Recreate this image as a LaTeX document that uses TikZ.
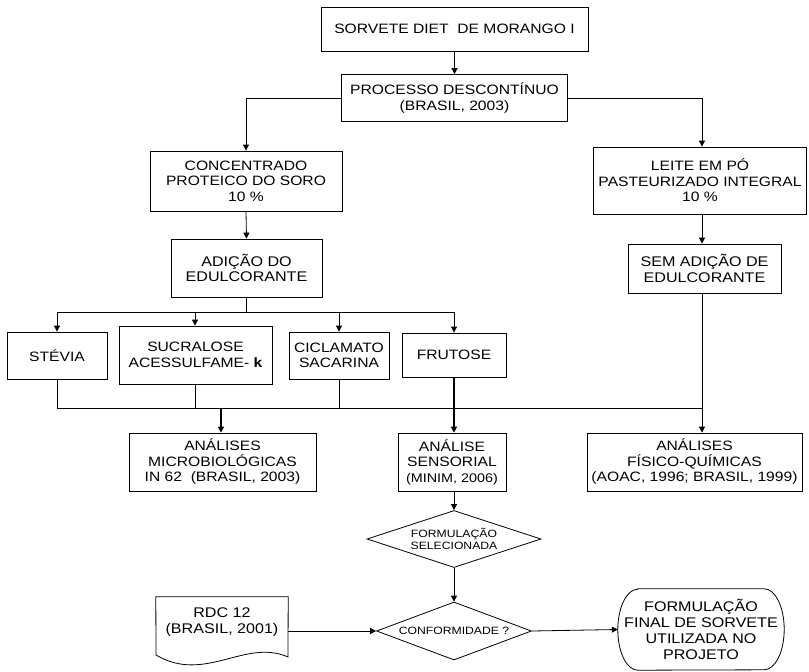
\documentclass[tikz,border=0pt]{standalone}
\usepackage{fontspec}
\setmainfont{Liberation Sans}[FakeStretch=1.15]
\usetikzlibrary{arrows.meta,shapes.geometric}
\begin{document}
\begin{tikzpicture}[x=1pt,y=-1pt,
  base/.style={font=\fontsize{13.6}{15.5}\selectfont, align=center, inner sep=0pt},
  box/.style={base, draw, line width=0.8pt, rectangle},
  dec/.style={base, draw, line width=0.8pt, diamond, shape aspect=3, font=\fontsize{10.6}{12.5}\selectfont},
  big/.style={font=\fontsize{14}{15.8}\selectfont},
  link/.style={line width=0.8pt},
  arr/.style={link, -{Triangle[length=6pt,width=6pt]}},
  heavy/.style={line width=1.5pt}
]
\fill[white] (0,0) rectangle (809,672);
\useasboundingbox (0,0) rectangle (809,672);

% vertical guide lines of the three columns
\coordinate (lx) at (702,0);
\coordinate (mx) at (454,0);

% main column
\node[box, minimum width=267pt, minimum height=44pt] (top) at (454.5,29) {SORVETE DIET\ \ DE MORANGO I};
\node[box, minimum width=226pt, minimum height=47pt] (proc) at (454.5,98) {PROCESSO DESCONTÍNUO\\(BRASIL, 2003)};

% left branch
\node[box, minimum width=192pt, minimum height=60pt] (cps) at (246,181) {CONCENTRADO\\PROTEICO DO SORO\\10 \%};
\node[box, big, minimum width=151pt, minimum height=58pt] (adi) at (246.5,268) {ADIÇÃO DO\\EDULCORANTE};

% sweeteners
\node[box, minimum width=100pt, minimum height=47pt] (stev) at (57,355.5) {STÉVIA};
\node[box, minimum width=153pt, minimum height=58pt] (sucr) at (195.5,355) {SUCRALOSE\\ACESSULFAME- \textbf{k}};
\node[box, minimum width=100pt, minimum height=47pt] (cicl) at (339,355.5) {CICLAMATO\\SACARINA};
\node[box, minimum width=104pt, minimum height=44pt] (frut) at (454,355) {FRUTOSE};

% right branch
\node[box, minimum width=213pt, minimum height=67pt] (leite) at (700,180.5) {LEITE EM PÓ\\PASTEURIZADO INTEGRAL\\10 \%};
\node[box, big, minimum width=153pt, minimum height=49pt] (sem) at (704.5,268.5) {SEM ADIÇÃO DE\\EDULCORANTE};

% analyses
\node[box, minimum width=187pt, minimum height=58pt] (micro) at (222.5,462) {ANÁLISES\\MICROBIOLÓGICAS\\IN 62\ \ (BRASIL, 2003)};
\node[box, minimum width=108pt, minimum height=58pt] (sens) at (452,462) {ANÁLISE\\SENSORIAL\\{\fontsize{12.5}{15.5}\selectfont(MINIM, 2006)}};
\node[box, minimum width=215pt, minimum height=58pt] (fis) at (694.5,462) {ANÁLISES\\FÍSICO-QUÍMICAS\\(AOAC, 1996; BRASIL, 1999)};

% decisions
\node[dec, minimum width=174pt, minimum height=57pt] (sel) at (454,539) {FORMULAÇÃO\\SELECIONADA};
\node[dec, minimum width=155pt, minimum height=58pt] (conf) at (454,631) {CONFORMIDADE ?};

% document symbol with a wavy lower edge
\node[base, big, minimum width=132pt, minimum height=50pt] (rdc) at (222,622) {RDC 12\\(BRASIL, 2001)};
\draw[link] (rdc.north west) -- (rdc.north east) -- (288,657)
  .. controls (245,638) and (205,684) .. (156,655) -- cycle;

% terminal with rounded ends
\node[base, big, minimum width=166pt, minimum height=81pt] (fim) at (701,629.5) {FORMULAÇÃO\\FINAL DE SORVETE\\UTILIZADA NO\\PROJETO};
\draw[link] ([xshift=20pt]fim.north west) -- ([xshift=-20pt]fim.north east)
  arc[start angle=90, end angle=-90, x radius=20pt, y radius=40.5pt]
  -- ([xshift=20pt]fim.south west)
  arc[start angle=270, end angle=90, x radius=20pt, y radius=40.5pt] -- cycle;

% connectors
\draw[arr] (top.south) -- (proc.north);
\draw[arr] (proc.west) -| (cps.north);
\draw[arr] (proc.east) -| (leite.north -| lx);
\draw[arr] (cps.south) -- (adi.north);
\draw[arr] (leite.south -| lx) -- (sem.north -| lx);

\draw[link] (adi.south) -- (adi.south |- 0,312);
\draw[link] (stev.north |- 0,312) -- (frut.north |- 0,312);
\draw[arr] (stev.north |- 0,312) -- (stev.north);
\draw[arr] (195,312) -- (sucr.north -| 195,0);
\draw[arr] (cicl.north |- 0,312) -- (cicl.north);
\draw[arr] (frut.north |- 0,312) -- (frut.north);

\draw[link] (stev.south) -- (stev.south |- 0,408);
\draw[link] (sucr.south -| 195,0) -- (195,408);
\draw[link] (cicl.south) -- (cicl.south |- 0,408);
\draw[link] (stev.south |- 0,408) -- (lx |- 0,408);
\draw[arr, heavy] (221,408) -- (micro.north -| 221,0);
\draw[arr, heavy] (frut.south -| mx) -- (sens.north -| mx);
\draw[arr] (sem.south -| lx) -- (fis.north -| lx);

\draw[arr] (sens.south -| sel.north) -- (sel.north);
\draw[arr] (sel.south) -- (conf.north);
\draw[arr] (conf.west -| rdc.east) -- (conf.west);
\draw[arr] (conf.east) -- (fim.west);
\end{tikzpicture}
\end{document}
